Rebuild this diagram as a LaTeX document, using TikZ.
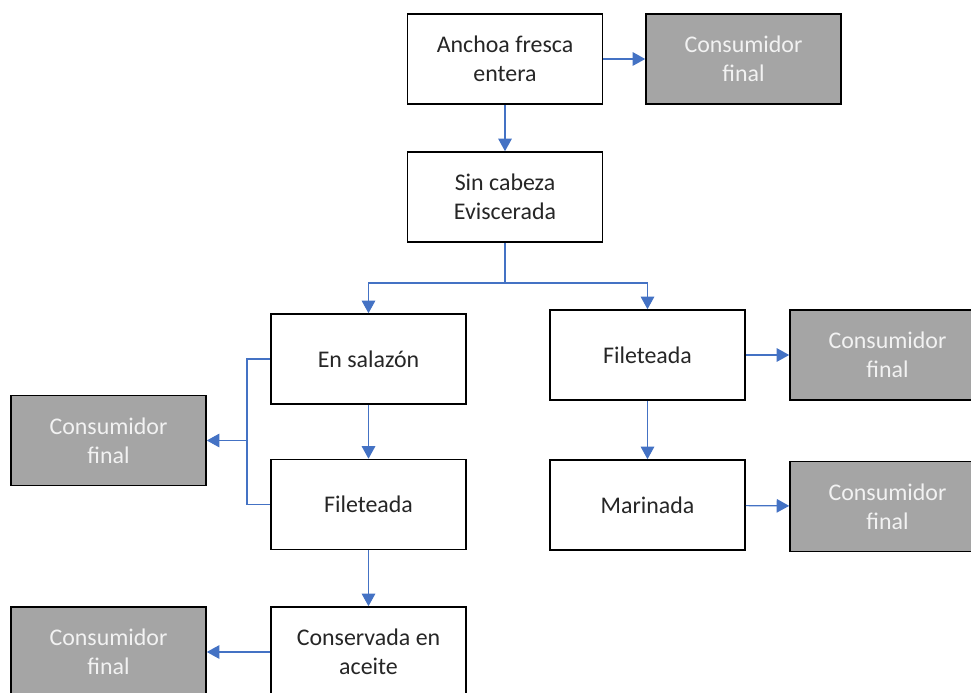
\documentclass[tikz,border=0pt]{standalone}
\usepackage{fontspec}
\setmainfont{Carlito}
\usetikzlibrary{arrows.meta}
\definecolor{flecha}{HTML}{4472C4}
\definecolor{gris}{HTML}{A5A5A5}
\definecolor{letra}{HTML}{F2F2F2}
\tikzset{
  paso/.style={draw=black,line width=0.9pt,rectangle,fill=white,minimum width=3.9cm,minimum height=1.8cm,align=center,text=black!85,font=\fontsize{13.6}{16.5}\selectfont},
  final/.style={paso,fill=gris,text=letra},
  flujo/.style={draw=flecha,line width=0.7pt},
  fl/.style={flujo,-{Triangle[length=2.5mm,width=2.7mm]}}
}
\begin{document}
\begin{tikzpicture}
\useasboundingbox (0,0) rectangle (19.42,-13.86);

\node[paso] (anchoa) at (10.1,-1.18) {Anchoa fresca\\entera};
\node[final] (cf1) at (14.87,-1.18) {Consumidor\\final};
\node[paso] (sincab) at (10.1,-3.94) {Sin cabeza\\Eviscerada};
\node[paso] (salazon) at (7.37,-7.18) {En salazón};
\node[paso] (filR) at (12.95,-7.1) {Fileteada};
\node[final] (cfR1) at (17.75,-7.1) {Consumidor\\final};
\node[final] (cfL1) at (2.17,-8.81) {Consumidor\\final};
\node[paso] (filL) at (7.37,-10.09) {Fileteada};
\node[paso] (marinada) at (12.95,-10.1) {Marinada};
\node[final] (cfR2) at (17.75,-10.13) {Consumidor\\final};
\node[paso] (conserv) at (7.37,-13.04) {Conservada en\\aceite};
\node[final] (cfL2) at (2.17,-13.04) {Consumidor\\final};

\coordinate (split) at (10.1,-5.66);
\coordinate (barra) at (4.94,-8.81);

\draw[fl] (anchoa) -- (cf1);
\draw[fl] (anchoa) -- (sincab);
\draw[flujo] (sincab) -- (split);
\draw[fl] (split) -| (salazon.north);
\draw[fl] (split) -| (filR.north);
\draw[fl] (salazon) -- (filL);
\draw[flujo] (salazon.west) -| (barra) |- (filL.west);
\draw[fl] (barra) -- (cfL1);
\draw[fl] (filL) -- (conserv);
\draw[fl] (conserv) -- (cfL2);
\draw[fl] (filR) -- (cfR1);
\draw[fl] (filR) -- (marinada);
\draw[fl] (marinada) -- (cfR2);
\end{tikzpicture}
\end{document}
